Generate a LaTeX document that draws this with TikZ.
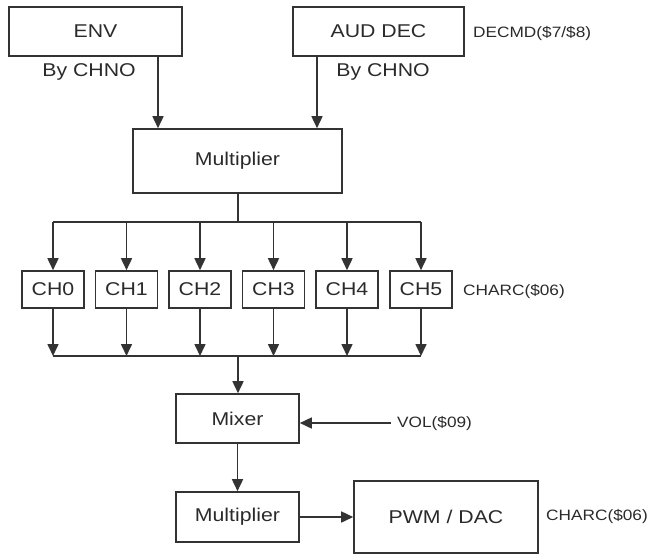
\documentclass[tikz,border=0pt]{standalone}
\usepackage{fontspec}
\setmainfont{Liberation Sans}[FakeStretch=1.15]
\usepackage{tikz}
\usetikzlibrary{arrows.meta}
\definecolor{lineColor}{HTML}{333333}
\definecolor{textColor}{HTML}{2A2A2A}

\begin{document}
\begin{tikzpicture}[x=1pt, y=-1pt,
    block/.style={draw=lineColor, line width=1.6pt, text=textColor,
        font=\fontsize{18.5}{21}\selectfont, inner sep=0pt},
    chbox/.style={block, minimum width=62pt, minimum height=37pt},
    note/.style={text=textColor, font=\fontsize{15}{17}\selectfont, inner sep=0pt, anchor=west},
    big/.style={text=textColor, font=\fontsize{18.5}{21}\selectfont, inner sep=0pt},
    wire/.style={draw=lineColor, line width=1.6pt},
    arr/.style={wire, -{Triangle[length=12pt, width=11pt]}}]
    \useasboundingbox (0,0) rectangle (648,555);
    \node[block, minimum width=173pt, minimum height=49pt] (env) at (95.5,31.5) {ENV};
    \node[block, minimum width=171pt, minimum height=49pt] (aud) at (378.5,31.5) {AUD DEC};
    \node[note] (decmd) at (473,33) {DECMD(\$7/\$8)};
    \node[big] (chnoA) at (89,72) {By CHNO};
    \node[big] (chnoB) at (383,72) {By CHNO};
    \node[block, minimum width=209pt, minimum height=64pt] (mulA) at (237.5,161) {Multiplier};
    \draw[arr] (env.south -| 158,0) -- (mulA.north -| 158,0);
    \draw[arr] (aud.south -| 317,0) -- (mulA.north -| 317,0);
    \foreach \i/\x in {0/53,1/126.5,2/200,3/273.5,4/347,5/421}
        \node[chbox] (ch\i) at (\x,289.5) {CH\i};
    \node[note] (charcA) at (463,291) {CHARC(\$06)};
    \coordinate (split) at (238,222);
    \coordinate (join) at (238,356);
    \draw[wire] (mulA.south -| split) -- (split);
    \draw[wire] (ch0.north |- split) -- (ch5.north |- split);
    \draw[wire] (ch0.south |- join) -- (ch5.south |- join);
    \foreach \i in {0,...,5} {
        \draw[arr] (ch\i.north |- split) -- (ch\i.north);
        \draw[arr] (ch\i.south) -- (ch\i.south |- join);
    }
    \node[block, minimum width=123pt, minimum height=49pt] (mixer) at (237.5,418.5) {Mixer};
    \node[note] (vol) at (397,423) {VOL(\$09)};
    \draw[arr] (join) -- (mixer.north -| join);
    \draw[arr] ([xshift=-6pt]vol.west) -- (mixer.east |- vol.west);
    \node[block, minimum width=123pt, minimum height=50pt] (mulB) at (237.5,517) {Multiplier};
    \node[block, minimum width=184pt, minimum height=72pt] (pwm) at (446,517) {PWM / DAC};
    \node[note] (charcB) at (546,516) {CHARC(\$06)};
    \draw[arr] (mixer) -- (mulB);
    \draw[arr] (mulB) -- (pwm);
\end{tikzpicture}
\end{document}
